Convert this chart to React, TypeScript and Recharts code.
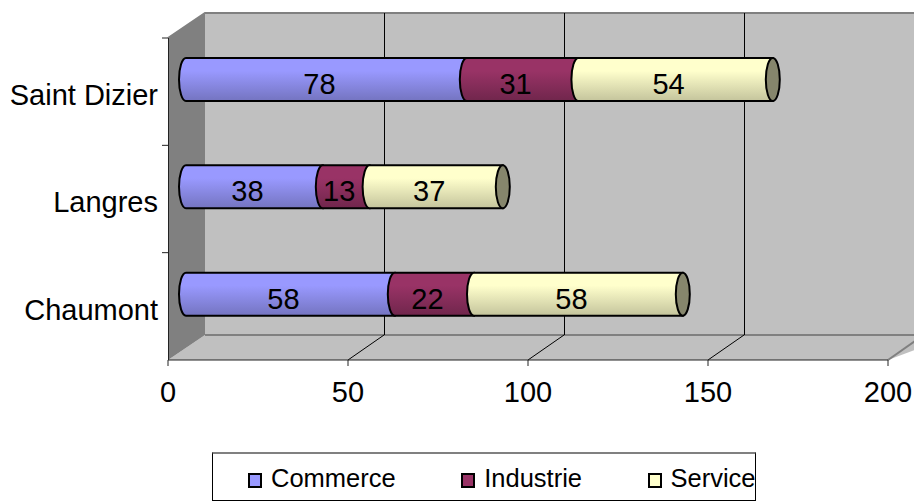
import { Bar, BarChart, LabelList, Legend, XAxis, YAxis } from "recharts";

const categories = ["Saint Dizier", "Langres", "Chaumont"];
const commerce = [78, 38, 58];
const industrie = [31, 13, 22];
const service = [54, 37, 58];
const xTicks = [0, 50, 100, 150, 200];

const data = categories.map((name, i) => ({
  name,
  Commerce: commerce[i],
  Industrie: industrie[i],
  Service: service[i],
}));

const W = 914;
const H = 503;
const plot = { top: 38, right: 26, bottom: 143, left: 168 };
const legendH = 49;
const plotW = W - plot.left - plot.right;
const plotH = H - plot.top - plot.bottom;
const floorY = plot.top + plotH;
const depthX = 36;
const depthY = 26;
const barShiftX = 18;
const barShiftY = -12;
const capRx = 7;
const font = "'Liberation Sans', Arial, sans-serif";

const xOf = (v: number) => plot.left + (v / 200) * plotW;

const gradients = [
  { id: "commerce", light: "#9999ff", dark: "#7474c0" },
  { id: "industrie", light: "#993366", dark: "#70264c" },
  { id: "service", light: "#ffffcc", dark: "#c4c49c" },
];

function Walls() {
  const bandTicks = categories.map((_, i) => plot.top + (i * plotH) / categories.length);
  const backL = plot.left + depthX + 1;
  const backTop = plot.top - depthY + 1;
  const backBottom = floorY - depthY + 1;
  return (
    <g>
      <defs>
        {gradients.map((g) => (
          <linearGradient key={g.id} id={g.id} x1="0" y1="0" x2="0" y2="1">
            <stop offset="0" stopColor={g.light} />
            <stop offset="0.3" stopColor={g.light} />
            <stop offset="1" stopColor={g.dark} />
          </linearGradient>
        ))}
      </defs>
      <rect x={backL} y={backTop} width={W - backL} height={backBottom - backTop} fill="#c0c0c0" />
      <polygon
        points={`${plot.left},${floorY} ${backL},${backBottom} ${W + 40},${backBottom} ${xOf(200)},${floorY}`}
        fill="#c0c0c0"
      />
      <polygon
        points={`${plot.left},${plot.top} ${backL},${backTop} ${backL},${backBottom} ${plot.left},${floorY}`}
        fill="#808080"
      />
      <polyline
        points={`${plot.left},${plot.top} ${backL},${backTop} ${W},${backTop}`}
        fill="none"
        stroke="#808080"
        strokeWidth={2}
      />
      <line x1={backL} y1={backBottom} x2={W} y2={backBottom} stroke="#808080" strokeWidth={2} />
      <line x1={xOf(200)} y1={floorY} x2={W + 4} y2={floorY - 21} stroke="#808080" strokeWidth={2} />
      {xTicks.slice(1, -1).map((t) => (
        <g key={t} stroke="#000" strokeWidth={1}>
          <line x1={xOf(t)} y1={floorY} x2={xOf(t) + depthX} y2={backBottom} />
          <line x1={xOf(t) + depthX + 0.5} y1={backBottom} x2={xOf(t) + depthX + 0.5} y2={backTop} />
        </g>
      ))}
      <line x1={plot.left + 0.5} y1={plot.top} x2={plot.left + 0.5} y2={floorY} stroke="#222" strokeWidth={1} />
      {bandTicks.map((y) => (
        <line key={y} x1={plot.left - 6} y1={y} x2={plot.left} y2={y} stroke="#222" />
      ))}
    </g>
  );
}

// cylinder segment: left end bulges over the previous segment
function Cylinder(props: any) {
  const { x, y, width, height, gradient, last } = props;
  const left = x + barShiftX;
  const right = left + width;
  const top = y + barShiftY;
  const bottom = top + height;
  const ry = height / 2;
  return (
    <g stroke="#000" strokeWidth={2}>
      <path
        d={`M${left},${top} L${right},${top} L${right},${bottom} L${left},${bottom} A${capRx},${ry} 0 0 1 ${left},${top} Z`}
        fill={`url(#${gradient})`}
      />
      {last && <ellipse cx={right} cy={top + ry} rx={capRx} ry={ry} fill="#86866c" />}
    </g>
  );
}

function SegmentLabel(props: any) {
  const { x, y, width, height, value } = props;
  return (
    <text
      x={x + width / 2 + barShiftX - capRx}
      y={y + height / 2 + barShiftY + 14.5}
      textAnchor="middle"
      fontSize={29}
      fontFamily={font}
      fill="#000"
    >
      {value}
    </text>
  );
}

function LegendBox({ payload }: any) {
  return (
    <div
      style={{
        boxSizing: "border-box",
        width: 544,
        height: legendH,
        border: "1px solid #000",
        borderTop: "2px solid #808080",
        display: "flex",
        alignItems: "center",
        gap: 65.5,
        paddingLeft: 35,
        paddingTop: 2,
        fontFamily: font,
        fontSize: 25.5,
        color: "#000",
      }}
    >
      {(payload ?? []).map((p: any) => (
        <span key={p.value} style={{ display: "flex", alignItems: "center", gap: 9 }}>
          <span
            style={{
              boxSizing: "border-box",
              width: 14,
              height: 15,
              marginTop: 4,
              background: p.color,
              border: "2px solid #000",
            }}
          />
          {p.value}
        </span>
      ))}
    </div>
  );
}

export default function App() {
  return (
    <div style={{ position: "absolute", left: 0, top: 0, width: W, height: H, overflow: "hidden", background: "#fff" }}>
      <BarChart
        width={W}
        height={H}
        data={data}
        layout="vertical"
        margin={{ top: plot.top, right: plot.right, bottom: 0, left: 0 }}
        barSize={43}
      >
        <Walls />
        <XAxis
          type="number"
          domain={[0, 200]}
          ticks={xTicks}
          interval={0}
          height={plot.bottom - legendH}
          axisLine={{ stroke: "#222" }}
          tickLine={{ stroke: "#222" }}
          tickSize={6}
          tickMargin={15}
          tick={{ fontSize: 29, fontFamily: font, fill: "#000" }}
        />
        <YAxis
          type="category"
          dataKey="name"
          width={plot.left}
          interval={0}
          axisLine={false}
          tickLine={false}
          tickSize={6}
          tickMargin={4}
          tick={{ fontSize: 29, fontFamily: font, fill: "#000", dy: 3 }}
        />
        <Bar
          dataKey="Commerce"
          stackId="a"
          fill="#9999ff"
          isAnimationActive={false}
          shape={(p: any) => <Cylinder {...p} gradient="commerce" />}
        >
          <LabelList dataKey="Commerce" content={SegmentLabel} />
        </Bar>
        <Bar
          dataKey="Industrie"
          stackId="a"
          fill="#993366"
          isAnimationActive={false}
          shape={(p: any) => <Cylinder {...p} gradient="industrie" />}
        >
          <LabelList dataKey="Industrie" content={SegmentLabel} />
        </Bar>
        <Bar
          dataKey="Service"
          stackId="a"
          fill="#ffffcc"
          isAnimationActive={false}
          shape={(p: any) => <Cylinder {...p} gradient="service" last />}
        >
          <LabelList dataKey="Service" content={SegmentLabel} />
        </Bar>
        <Legend
          content={LegendBox}
          wrapperStyle={{ position: "absolute", left: 212, top: 452, width: 544, bottom: "auto" }}
        />
      </BarChart>
    </div>
  );
}
